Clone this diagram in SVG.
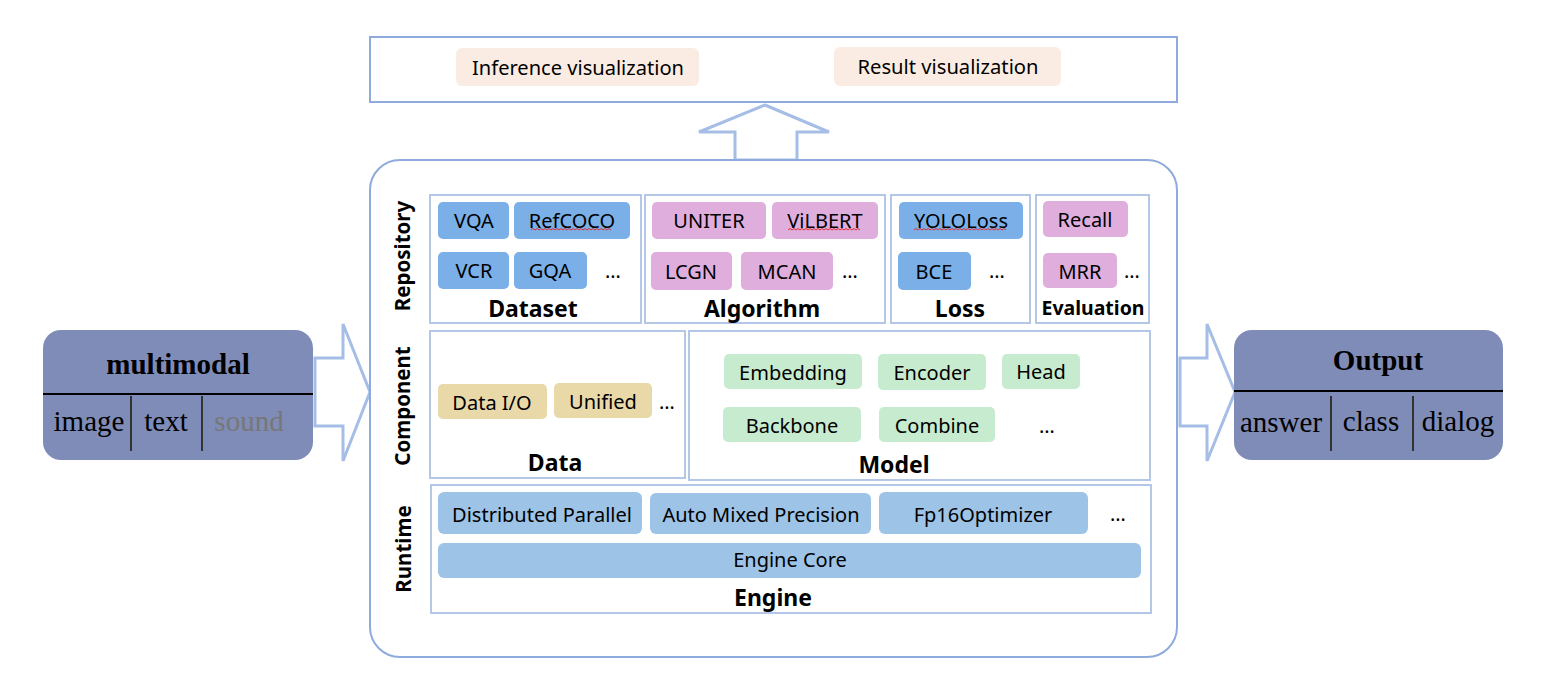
<svg xmlns="http://www.w3.org/2000/svg" width="1554" height="695" viewBox="0 0 1554 695">
<style>
.t{font-family:"Noto Sans","Open Sans","DejaVu Sans",sans-serif;font-size:20px;fill:#000;text-anchor:middle;dominant-baseline:central}
.b{font-family:"Noto Sans","Open Sans","DejaVu Sans",sans-serif;font-size:23px;font-weight:bold;fill:#000;text-anchor:middle;dominant-baseline:central}
.r{font-size:20.5px}
.s{font-family:"Liberation Serif","Times New Roman",serif;font-size:29px;fill:#000;text-anchor:middle;dominant-baseline:central}
.sec{fill:#fff;stroke:#b4c7e7;stroke-width:2}
.blue{fill:#7aafe8}
.pink{fill:#dfaedd}
.tan{fill:#e9d9a9}
.green{fill:#c7ebcf}
.rt{fill:#9dc3e6}
.peach{fill:#fbece3}
.arr{fill:#fff;stroke:#a6bde6;stroke-width:3}
.sq{fill:none;stroke:#e03030;stroke-width:1}
</style>
<rect width="1554" height="695" fill="#fff"/>

<g id="top-box">
<rect x="370" y="37" width="807" height="65" fill="#fff" stroke="#8faadc" stroke-width="2"/>
<rect x="456" y="48" width="243" height="38" rx="6" class="peach"/>
<text x="578" y="67" class="t" textLength="212" lengthAdjust="spacingAndGlyphs">Inference visualization</text>
<rect x="834" y="47" width="227" height="39" rx="6" class="peach"/>
<text x="948" y="66" class="t" textLength="181" lengthAdjust="spacingAndGlyphs">Result visualization</text>
</g>

<g id="connectors">
<path class="arr" d="M765,105 L829,132 L797,132 L797,160 L735,160 L735,132 L699,132 Z"/>
<path class="arr" d="M315,358 L343,358 L343,324 L370,392 L343,461 L343,426 L315,426 Z"/>
<path class="arr" d="M1180,358 L1207,358 L1207,324 L1235,392 L1207,461 L1207,426 L1180,426 Z"/>
</g>

<g id="main-box">
<rect x="370" y="160" width="807" height="497" rx="30" fill="#fff" stroke="#8faadc" stroke-width="2"/>
<text class="b r" transform="translate(402,256) rotate(-90)">Repository</text>
<text class="b r" transform="translate(402,406) rotate(-90)">Component</text>
<text class="b r" transform="translate(403,549) rotate(-90)">Runtime</text>
</g>

<g id="dataset">
<rect x="430" y="195" width="211" height="128" class="sec"/>
<rect x="438" y="202" width="71" height="37" rx="5" class="blue"/>
<text x="474" y="220" class="t">VQA</text>
<rect x="514" y="202" width="116" height="37" rx="5" class="blue"/>
<text x="572" y="220" class="t">RefCOCO</text>
<path class="sq" d="M531,230 l2,-1.5 l2,1.5 l2,-1.5 l2,1.5 l2,-1.5 l2,1.5 l2,-1.5 l2,1.5 l2,-1.5 l2,1.5 l2,-1.5 l2,1.5 l2,-1.5 l2,1.5 l2,-1.5 l2,1.5 l2,-1.5 l2,1.5 l2,-1.5 l2,1.5 l2,-1.5 l2,1.5 l2,-1.5 l2,1.5 l2,-1.5 l2,1.5 l2,-1.5 l2,1.5 l2,-1.5 l2,1.5 l2,-1.5 l2,1.5 l2,-1.5 l2,1.5 l2,-1.5 l2,1.5 l2,-1.5 l2,1.5 l2,-1.5 l2,1.5"/>
<rect x="438" y="252" width="71" height="37" rx="5" class="blue"/>
<text x="474" y="270" class="t">VCR</text>
<rect x="514" y="252" width="73" height="37" rx="5" class="blue"/>
<text x="550" y="270" class="t">GQA</text>
<text x="613" y="270" class="t">…</text>
<text x="533" y="308" class="b">Dataset</text>
</g>

<g id="algorithm">
<rect x="645" y="195" width="240" height="128" class="sec"/>
<rect x="652" y="202" width="114" height="37" rx="5" class="pink"/>
<text x="709" y="220" class="t">UNITER</text>
<rect x="772" y="202" width="106" height="37" rx="5" class="pink"/>
<text x="825" y="220" class="t">ViLBERT</text>
<path class="sq" d="M788,230 l2,-1.5 l2,1.5 l2,-1.5 l2,1.5 l2,-1.5 l2,1.5 l2,-1.5 l2,1.5 l2,-1.5 l2,1.5 l2,-1.5 l2,1.5 l2,-1.5 l2,1.5 l2,-1.5 l2,1.5 l2,-1.5 l2,1.5 l2,-1.5 l2,1.5 l2,-1.5 l2,1.5 l2,-1.5 l2,1.5 l2,-1.5 l2,1.5 l2,-1.5 l2,1.5 l2,-1.5 l2,1.5 l2,-1.5 l2,1.5 l2,-1.5 l2,1.5 l2,-1.5 l2,1.5"/>
<rect x="651" y="252" width="81" height="38" rx="5" class="pink"/>
<text x="691" y="271" class="t">LCGN</text>
<rect x="741" y="252" width="92" height="38" rx="5" class="pink"/>
<text x="787" y="271" class="t">MCAN</text>
<text x="850" y="270" class="t">…</text>
<text x="762" y="308" class="b">Algorithm</text>
</g>

<g id="loss">
<rect x="891" y="195" width="139" height="128" class="sec"/>
<rect x="899" y="202" width="124" height="37" rx="5" class="blue"/>
<text x="961" y="220" class="t">YOLOLoss</text>
<path class="sq" d="M914,230 l2,-1.5 l2,1.5 l2,-1.5 l2,1.5 l2,-1.5 l2,1.5 l2,-1.5 l2,1.5 l2,-1.5 l2,1.5 l2,-1.5 l2,1.5 l2,-1.5 l2,1.5 l2,-1.5 l2,1.5 l2,-1.5 l2,1.5 l2,-1.5 l2,1.5 l2,-1.5 l2,1.5 l2,-1.5 l2,1.5 l2,-1.5 l2,1.5 l2,-1.5 l2,1.5 l2,-1.5 l2,1.5 l2,-1.5 l2,1.5 l2,-1.5 l2,1.5 l2,-1.5 l2,1.5 l2,-1.5 l2,1.5 l2,-1.5 l2,1.5 l2,-1.5 l2,1.5 l2,-1.5 l2,1.5 l2,-1.5 l2,1.5"/>
<rect x="898" y="252" width="73" height="38" rx="5" class="blue"/>
<text x="934" y="271" class="t">BCE</text>
<text x="997" y="270" class="t">…</text>
<text x="960" y="308" class="b">Loss</text>
</g>

<g id="evaluation">
<rect x="1036" y="195" width="113" height="128" class="sec"/>
<rect x="1043" y="201" width="85" height="36" rx="5" class="pink"/>
<text x="1085" y="219" class="t">Recall</text>
<rect x="1043" y="253" width="74" height="35" rx="5" class="pink"/>
<text x="1080" y="271" class="t">MRR</text>
<text x="1132" y="270" class="t">…</text>
<text x="1093" y="307" class="b" style="font-size:19.5px">Evaluation</text>
</g>

<g id="data">
<rect x="430" y="331" width="255" height="147" class="sec"/>
<rect x="438" y="384" width="109" height="35" rx="5" class="tan"/>
<text x="492" y="402" class="t">Data I/O</text>
<rect x="554" y="383" width="98" height="35" rx="5" class="tan"/>
<text x="603" y="401" class="t">Unified</text>
<text x="667" y="401" class="t">…</text>
<text x="555" y="462" class="b">Data</text>
</g>

<g id="model">
<rect x="689" y="331" width="461" height="149" class="sec"/>
<rect x="724" y="354" width="138" height="35" rx="5" class="green"/>
<text x="793" y="372" class="t">Embedding</text>
<rect x="878" y="354" width="108" height="36" rx="5" class="green"/>
<text x="932" y="372" class="t">Encoder</text>
<rect x="1002" y="354" width="78" height="35" rx="5" class="green"/>
<text x="1041" y="371" class="t">Head</text>
<rect x="723" y="407" width="138" height="35" rx="5" class="green"/>
<text x="792" y="425" class="t">Backbone</text>
<rect x="879" y="407" width="116" height="35" rx="5" class="green"/>
<text x="937" y="425" class="t">Combine</text>
<text x="1047" y="425" class="t">…</text>
<text x="894" y="464" class="b">Model</text>
</g>

<g id="engine">
<rect x="431" y="485" width="720" height="128" class="sec"/>
<rect x="438" y="492" width="204" height="42" rx="6" class="rt"/>
<text x="542" y="514" class="t">Distributed Parallel</text>
<rect x="650" y="493" width="221" height="41" rx="6" class="rt"/>
<text x="761" y="514" class="t">Auto Mixed Precision</text>
<rect x="879" y="492" width="209" height="42" rx="6" class="rt"/>
<text x="983" y="514" class="t">Fp16Optimizer</text>
<text x="1118" y="513" class="t">…</text>
<rect x="438" y="543" width="703" height="35" rx="6" class="rt"/>
<text x="790" y="559" class="t">Engine Core</text>
<text x="773" y="597" class="b">Engine</text>
</g>

<g id="multimodal">
<rect x="43" y="330" width="270" height="130" rx="18" fill="#7f8cb8"/>
<line x1="43" y1="394" x2="313" y2="394" stroke="#000" stroke-width="2"/>
<text x="178" y="364" class="s" style="font-weight:bold">multimodal</text>
<line x1="131" y1="396" x2="131" y2="451" stroke="#333" stroke-width="2"/>
<line x1="202" y1="396" x2="202" y2="451" stroke="#333" stroke-width="2"/>
<text x="89" y="421" class="s">image</text>
<text x="166" y="421" class="s">text</text>
<text x="249" y="421" class="s" style="fill:#777">sound</text>
</g>

<g id="output">
<rect x="1234" y="330" width="269" height="130" rx="18" fill="#7f8cb8"/>
<line x1="1234" y1="391" x2="1503" y2="391" stroke="#000" stroke-width="2"/>
<text x="1378" y="360" class="s" style="font-weight:bold">Output</text>
<line x1="1331" y1="396" x2="1331" y2="451" stroke="#333" stroke-width="2"/>
<line x1="1413" y1="396" x2="1413" y2="451" stroke="#333" stroke-width="2"/>
<text x="1281" y="422" class="s">answer</text>
<text x="1371" y="421" class="s">class</text>
<text x="1458" y="421" class="s">dialog</text>
</g>
</svg>
